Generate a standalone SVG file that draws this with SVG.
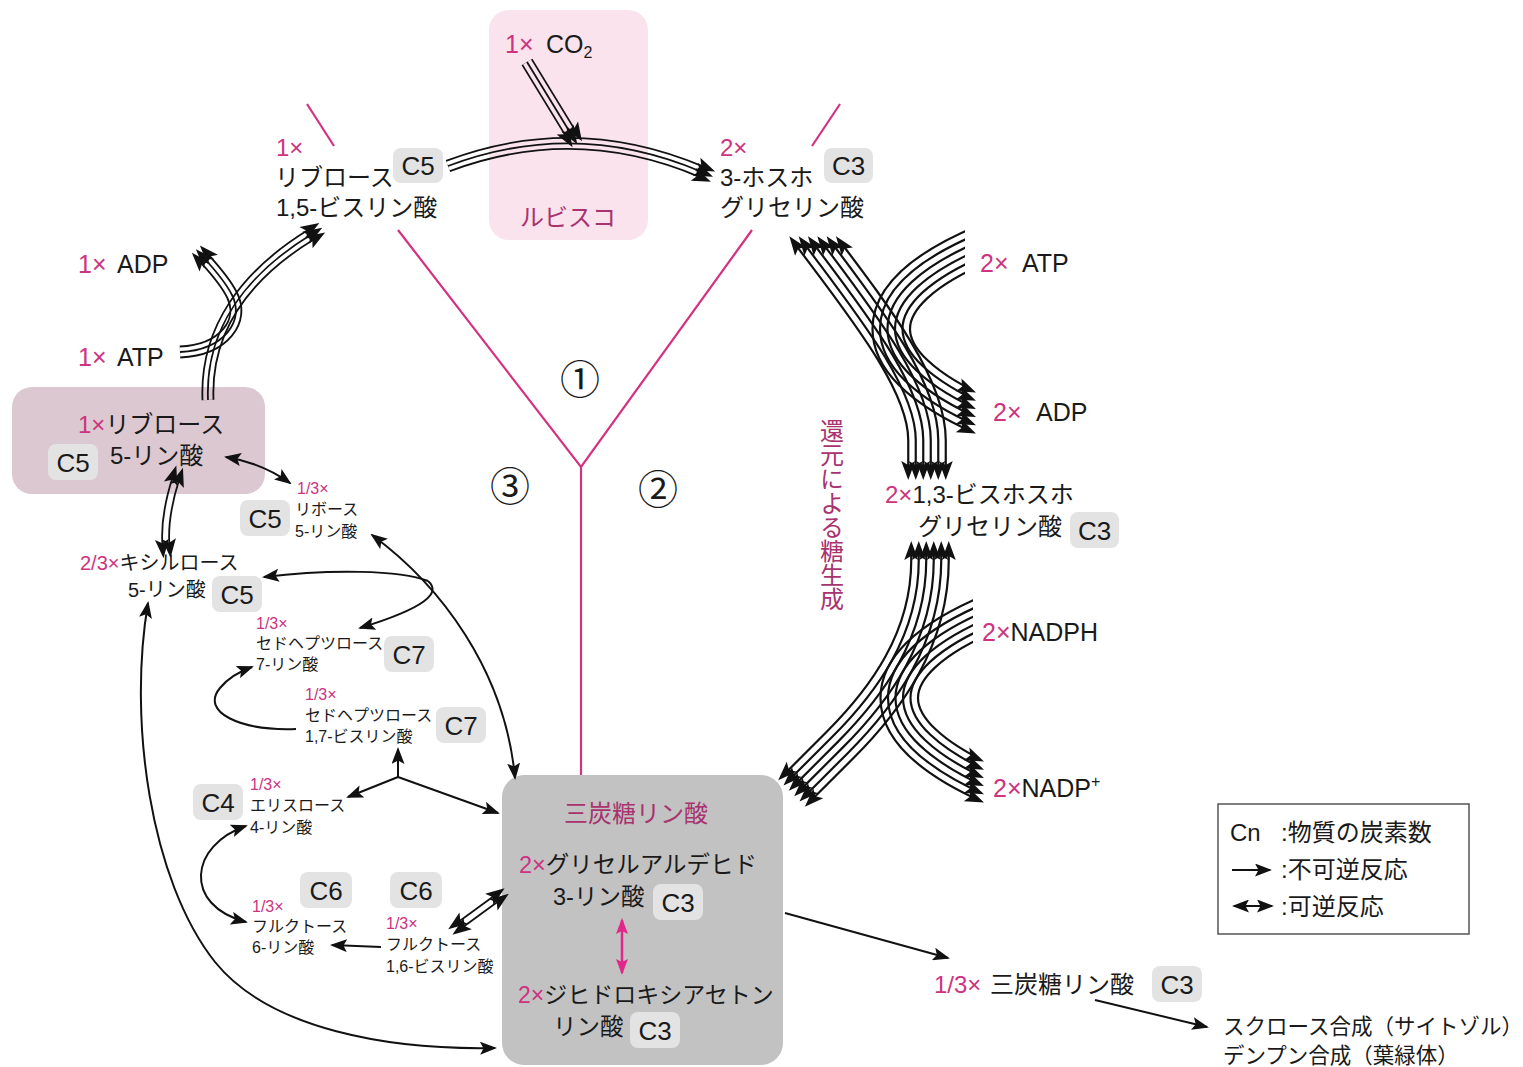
<svg xmlns="http://www.w3.org/2000/svg" width="1523" height="1067" viewBox="0 0 1523 1067">
<style>
text{font-family:"Liberation Sans","Noto Sans CJK JP",sans-serif;fill:#1a1a1a}
.m{fill:#cc3380}
.d{fill:#a8336f}
.cb{fill:#e3e3e3}
.ct{font-size:26px;text-anchor:middle}
.s{font-size:16px}
.l{font-size:24px}
.ln{fill:none;stroke:#111;stroke-width:2}
.pk{fill:none;stroke:#d4317f;stroke-width:2.2}
.cn{font-family:"Noto Sans CJK JP",sans-serif;font-size:40px;text-anchor:middle}
</style>
<defs>
<marker id="ah" viewBox="0 0 17 13" refX="15" refY="6.5" markerWidth="17" markerHeight="13" markerUnits="userSpaceOnUse" orient="auto-start-reverse"><path d="M0,0 L17,6.5 L0,13 L3.5,6.5 z" fill="#111"/></marker>
<marker id="ahp" viewBox="0 0 16 12" refX="14" refY="6" markerWidth="16" markerHeight="12" markerUnits="userSpaceOnUse" orient="auto-start-reverse"><path d="M0,0 L16,6 L0,12 L3,6 z" fill="#e0288a"/></marker>
<path id="hd" d="M-7,-7 L12,0 L-7,7 L-3,0 z" fill="#111"/>
<path id="pR1" d="M802,222 C860,300 927,380 927,440 L927,480"/>
<path id="pR2" d="M985,243 C860,295 860,362 985,417"/>
<path id="pR3" d="M930,535 L930,560 C930,640 885,700 840,745 L800,785"/>
<path id="pR4" d="M993,612 C868,664 868,731 993,786"/>
<path id="pT1" d="M448,166 Q575,118 702,172"/>
<path id="pT2" d="M527,62 L571,134"/>
<path id="pT3" d="M208,400 C205,330 245,275 312,234"/>
<path id="pT4" d="M180,352 C225,350 245,320 232,295 C226,283 215,270 204,258"/>
<path id="pD1" d="M176,478 C169,500 164,522 166,546"/>
<path id="pD2" d="M460,925 L497,898"/>
<mask id="mR1" maskUnits="userSpaceOnUse" x="0" y="0" width="1523" height="1067"><g fill="none"><use href="#pR1" stroke="#fff" stroke-width="39.7"/><use href="#pR1" stroke="#000" stroke-width="35.3"/><use href="#pR1" stroke="#fff" stroke-width="24.7"/><use href="#pR1" stroke="#000" stroke-width="20.3"/><use href="#pR1" stroke="#fff" stroke-width="9.7"/><use href="#pR1" stroke="#000" stroke-width="5.3"/></g></mask>
<mask id="mR2" maskUnits="userSpaceOnUse" x="0" y="0" width="1523" height="1067"><g fill="none"><use href="#pR2" stroke="#fff" stroke-width="39.7"/><use href="#pR2" stroke="#000" stroke-width="35.3"/><use href="#pR2" stroke="#fff" stroke-width="24.7"/><use href="#pR2" stroke="#000" stroke-width="20.3"/><use href="#pR2" stroke="#fff" stroke-width="9.7"/><use href="#pR2" stroke="#000" stroke-width="5.3"/></g></mask>
<mask id="mR3" maskUnits="userSpaceOnUse" x="0" y="0" width="1523" height="1067"><g fill="none"><use href="#pR3" stroke="#fff" stroke-width="39.7"/><use href="#pR3" stroke="#000" stroke-width="35.3"/><use href="#pR3" stroke="#fff" stroke-width="24.7"/><use href="#pR3" stroke="#000" stroke-width="20.3"/><use href="#pR3" stroke="#fff" stroke-width="9.7"/><use href="#pR3" stroke="#000" stroke-width="5.3"/></g></mask>
<mask id="mR4" maskUnits="userSpaceOnUse" x="0" y="0" width="1523" height="1067"><g fill="none"><use href="#pR4" stroke="#fff" stroke-width="39.7"/><use href="#pR4" stroke="#000" stroke-width="35.3"/><use href="#pR4" stroke="#fff" stroke-width="24.7"/><use href="#pR4" stroke="#000" stroke-width="20.3"/><use href="#pR4" stroke="#fff" stroke-width="9.7"/><use href="#pR4" stroke="#000" stroke-width="5.3"/></g></mask>
<mask id="mT1" maskUnits="userSpaceOnUse" x="0" y="0" width="1523" height="1067"><g fill="none"><use href="#pT1" stroke="#fff" stroke-width="12.8"/><use href="#pT1" stroke="#000" stroke-width="9.2"/><use href="#pT1" stroke="#fff" stroke-width="1.8"/></g></mask>
<mask id="mT2" maskUnits="userSpaceOnUse" x="0" y="0" width="1523" height="1067"><g fill="none"><use href="#pT2" stroke="#fff" stroke-width="12.8"/><use href="#pT2" stroke="#000" stroke-width="9.2"/><use href="#pT2" stroke="#fff" stroke-width="1.8"/></g></mask>
<mask id="mT3" maskUnits="userSpaceOnUse" x="0" y="0" width="1523" height="1067"><g fill="none"><use href="#pT3" stroke="#fff" stroke-width="12.8"/><use href="#pT3" stroke="#000" stroke-width="9.2"/><use href="#pT3" stroke="#fff" stroke-width="1.8"/></g></mask>
<mask id="mT4" maskUnits="userSpaceOnUse" x="0" y="0" width="1523" height="1067"><g fill="none"><use href="#pT4" stroke="#fff" stroke-width="12.8"/><use href="#pT4" stroke="#000" stroke-width="9.2"/><use href="#pT4" stroke="#fff" stroke-width="1.8"/></g></mask>
<mask id="mD1" maskUnits="userSpaceOnUse" x="0" y="0" width="1523" height="1067"><g fill="none"><use href="#pD1" stroke="#fff" stroke-width="8.8"/><use href="#pD1" stroke="#000" stroke-width="5.2"/></g></mask>
<mask id="mD2" maskUnits="userSpaceOnUse" x="0" y="0" width="1523" height="1067"><g fill="none"><use href="#pD2" stroke="#fff" stroke-width="8.8"/><use href="#pD2" stroke="#000" stroke-width="5.2"/></g></mask>
</defs>

<rect width="1523" height="1067" fill="#fff"/>

<g id="dividers">
<path class="pk" d="M398,230 L581,467 L752,230 M581,467 L581,775"/>
<path class="pk" d="M307,104 L334,146 M840,104 L812,146"/>
<text x="580" y="394" class="cn">①</text>
<text x="658" y="504" class="cn">②</text>
<text x="510" y="501" class="cn">③</text>
</g>

<g id="n-rubisco">
<rect x="489" y="10" width="159" height="230" rx="20" fill="#fae3ec"/>
<text x="568" y="226" font-size="24" text-anchor="middle" class="d">ルビスコ</text>
</g>
<g id="n-co2">
<text x="505" y="53" font-size="25"><tspan class="m">1×</tspan><tspan x="546">CO</tspan><tspan font-size="16" dy="5">2</tspan></text>
</g>
<g id="n-rubp">
<text x="276" y="156" class="l m">1×</text>
<text x="275" y="186" class="l">リブロース</text>
<text x="276" y="216" class="l">1,5-ビスリン酸</text>
<rect class="cb" x="393" y="148" width="50" height="35" rx="8"/><text class="ct" x="418" y="175">C5</text>
</g>
<g id="n-3pg">
<text x="720" y="156" class="l m">2×</text>
<text x="720" y="186" class="l">3-ホスホ</text>
<text x="720" y="216" class="l">グリセリン酸</text>
<rect class="cb" x="824" y="148" width="49" height="35" rx="8"/><text class="ct" x="848.5" y="175">C3</text>
</g>
<g id="n-adp1"><text x="78" y="273" font-size="25"><tspan class="m">1×</tspan><tspan x="117">ADP</tspan></text></g>
<g id="n-atp1"><text x="78" y="366" font-size="25"><tspan class="m">1×</tspan><tspan x="117">ATP</tspan></text></g>
<g id="n-ru5p">
<rect x="12" y="387" width="253" height="107" rx="20" fill="#dcc8d0"/>
<text x="78" y="433" class="l"><tspan class="m">1×</tspan>リブロース</text>
<text x="110" y="464" class="l">5-リン酸</text>
<rect class="cb" x="48" y="444" width="50" height="36" rx="8"/><text class="ct" x="73" y="472">C5</text>
</g>
<g id="n-r5p">
<text x="297" y="494" class="s m">1/3×</text>
<text x="295" y="515" class="s">リボース</text>
<text x="295" y="537" class="s">5-リン酸</text>
<rect class="cb" x="240" y="500" width="50" height="36" rx="8"/><text class="ct" x="265" y="528">C5</text>
</g>
<g id="n-xu5p">
<text x="80" y="570" font-size="20"><tspan class="m">2/3×</tspan>キシルロース</text>
<text x="128" y="597" font-size="20">5-リン酸</text>
<rect class="cb" x="212" y="576" width="50" height="36" rx="8"/><text class="ct" x="237" y="604">C5</text>
</g>
<g id="n-s7p">
<text x="256" y="629" class="s m">1/3×</text>
<text x="256" y="649" class="s">セドヘプツロース</text>
<text x="256" y="670" class="s">7-リン酸</text>
<rect class="cb" x="384" y="636" width="50" height="36" rx="8"/><text class="ct" x="409" y="664">C7</text>
</g>
<g id="n-sbp">
<text x="305" y="700" class="s m">1/3×</text>
<text x="305" y="721" class="s">セドヘプツロース</text>
<text x="305" y="742" class="s">1,7-ビスリン酸</text>
<rect class="cb" x="436" y="707" width="50" height="36" rx="8"/><text class="ct" x="461" y="735">C7</text>
</g>
<g id="n-e4p">
<rect class="cb" x="193" y="784" width="50" height="36" rx="8"/><text class="ct" x="218" y="812">C4</text>
<text x="250" y="790" class="s m">1/3×</text>
<text x="250" y="811" class="s">エリスロース</text>
<text x="250" y="833" class="s">4-リン酸</text>
</g>
<g id="n-f6p">
<rect class="cb" x="300" y="872" width="52" height="36" rx="8"/><text class="ct" x="326" y="900">C6</text>
<text x="252" y="912" class="s m">1/3×</text>
<text x="252" y="932" class="s">フルクトース</text>
<text x="252" y="953" class="s">6-リン酸</text>
</g>
<g id="n-fbp">
<rect class="cb" x="390" y="872" width="52" height="36" rx="8"/><text class="ct" x="416" y="900">C6</text>
<text x="386" y="929" class="s m">1/3×</text>
<text x="386" y="950" class="s">フルクトース</text>
<text x="386" y="972" class="s">1,6-ビスリン酸</text>
</g>
<g id="n-triose">
<rect x="502" y="775" width="281" height="290" rx="22" fill="#c2c2c2"/>
<text x="636" y="822" class="l d" text-anchor="middle">三炭糖リン酸</text>
<text x="519" y="873" font-size="23.5"><tspan class="m">2×</tspan>グリセルアルデヒド</text>
<text x="553" y="905" font-size="23.5">3-リン酸</text>
<rect class="cb" x="653" y="884" width="50" height="36" rx="8"/><text class="ct" x="678" y="912">C3</text>
<text x="518" y="1003" font-size="23"><tspan class="m">2×</tspan>ジヒドロキシアセトン</text>
<text x="553" y="1035" font-size="23.5">リン酸</text>
<rect class="cb" x="630" y="1012" width="50" height="36" rx="8"/><text class="ct" x="655" y="1040">C3</text>
</g>
<g id="n-atp2"><text x="980" y="272" font-size="25"><tspan class="m">2×</tspan><tspan x="1022">ATP</tspan></text></g>
<g id="n-adp2"><text x="993" y="421" font-size="25"><tspan class="m">2×</tspan><tspan x="1036">ADP</tspan></text></g>
<g id="n-bpg">
<text x="885" y="503" class="l"><tspan class="m">2×</tspan>1,3-ビスホスホ</text>
<text x="918" y="535" class="l">グリセリン酸</text>
<rect class="cb" x="1070" y="512" width="49" height="36" rx="8"/><text class="ct" x="1094.5" y="540">C3</text>
</g>
<g id="n-nadph"><text x="982" y="641" font-size="25"><tspan class="m">2×</tspan>NADPH</text></g>
<g id="n-nadp"><text x="993" y="797" font-size="25"><tspan class="m">2×</tspan>NADP<tspan font-size="16" dy="-10">+</tspan></text></g>
<g id="n-reduction"><text x="830" y="419" font-size="24" class="d" style="writing-mode:vertical-rl">還元による糖生成</text></g>
<g id="n-out">
<text x="934" y="993" class="l"><tspan class="m">1/3×</tspan><tspan x="990">三炭糖リン酸</tspan></text>
<rect class="cb" x="1152" y="966" width="50" height="36" rx="8"/><text class="ct" x="1177" y="994">C3</text>
</g>
<g id="n-sink">
<text x="1223" y="1034" font-size="21.5">スクロース合成（サイトゾル）</text>
<text x="1223" y="1063" font-size="21.5">デンプン合成（葉緑体）</text>
</g>
<g id="n-legend">
<rect x="1218" y="804" width="251" height="130" fill="#fff" stroke="#555" stroke-width="1.5"/>
<text x="1230" y="841" class="l">Cn<tspan x="1281">:物質の炭素数</tspan></text>
<text x="1281" y="878" class="l">:不可逆反応</text>
<text x="1281" y="915" class="l">:可逆反応</text>
<path class="ln" d="M1232,870 L1270,870" marker-end="url(#ah)"/>
<path class="ln" d="M1234,906 L1272,906" marker-start="url(#ah)" marker-end="url(#ah)"/>
</g>

<g id="connectors">
<rect x="700" y="246" width="300" height="222" fill="#111" mask="url(#mR1)"/>
<rect x="800" y="200" width="165" height="260" fill="#111" mask="url(#mR2)"/>
<rect x="700" y="553" width="300" height="300" fill="#111" mask="url(#mR3)"/>
<rect x="800" y="560" width="173" height="280" fill="#111" mask="url(#mR4)"/>
<rect x="400" y="100" width="340" height="100" fill="#111" mask="url(#mT1)"/>
<rect x="500" y="40" width="100" height="110" fill="#111" mask="url(#mT2)"/>
<rect x="150" y="200" width="200" height="220" fill="#111" mask="url(#mT3)"/>
<rect x="150" y="240" width="120" height="130" fill="#111" mask="url(#mT4)"/>
<rect x="140" y="460" width="60" height="100" fill="#111" mask="url(#mD1)"/>
<rect x="440" y="880" width="80" height="60" fill="#111" mask="url(#mD2)"/>
<g id="heads">
<use href="#hd" transform="translate(796.5,246) rotate(-126.6)"/>
<use href="#hd" transform="translate(805.8,246) rotate(-126.6)"/>
<use href="#hd" transform="translate(815.1,246) rotate(-126.6)"/>
<use href="#hd" transform="translate(824.5,246) rotate(-126.6)"/>
<use href="#hd" transform="translate(833.8,246) rotate(-126.6)"/>
<use href="#hd" transform="translate(843.1,246) rotate(-126.6)"/>
<use href="#hd" transform="translate(908.25,468) rotate(90)"/>
<use href="#hd" transform="translate(915.75,468) rotate(90)"/>
<use href="#hd" transform="translate(923.25,468) rotate(90)"/>
<use href="#hd" transform="translate(930.75,468) rotate(90)"/>
<use href="#hd" transform="translate(938.25,468) rotate(90)"/>
<use href="#hd" transform="translate(945.75,468) rotate(90)"/>
<use href="#hd" transform="translate(965,387.7) rotate(23.7)"/>
<use href="#hd" transform="translate(965,395.9) rotate(23.7)"/>
<use href="#hd" transform="translate(965,404.1) rotate(23.7)"/>
<use href="#hd" transform="translate(965,412.3) rotate(23.7)"/>
<use href="#hd" transform="translate(965,420.5) rotate(23.7)"/>
<use href="#hd" transform="translate(965,428.7) rotate(23.7)"/>
<use href="#hd" transform="translate(911.25,553) rotate(-90)"/>
<use href="#hd" transform="translate(918.75,553) rotate(-90)"/>
<use href="#hd" transform="translate(926.25,553) rotate(-90)"/>
<use href="#hd" transform="translate(933.75,553) rotate(-90)"/>
<use href="#hd" transform="translate(941.25,553) rotate(-90)"/>
<use href="#hd" transform="translate(948.75,553) rotate(-90)"/>
<use href="#hd" transform="translate(786.7,771.7) rotate(135)"/>
<use href="#hd" transform="translate(792,777) rotate(135)"/>
<use href="#hd" transform="translate(797.3,782.3) rotate(135)"/>
<use href="#hd" transform="translate(802.7,787.7) rotate(135)"/>
<use href="#hd" transform="translate(808,793) rotate(135)"/>
<use href="#hd" transform="translate(813.3,798.3) rotate(135)"/>
<use href="#hd" transform="translate(973,756.7) rotate(23.7)"/>
<use href="#hd" transform="translate(973,764.9) rotate(23.7)"/>
<use href="#hd" transform="translate(973,773.1) rotate(23.7)"/>
<use href="#hd" transform="translate(973,781.3) rotate(23.7)"/>
<use href="#hd" transform="translate(973,789.5) rotate(23.7)"/>
<use href="#hd" transform="translate(973,797.7) rotate(23.7)"/>
<use href="#hd" transform="translate(704.1,166.9) rotate(23)"/>
<use href="#hd" transform="translate(702,172) rotate(23)"/>
<use href="#hd" transform="translate(699.9,177.1) rotate(23)"/>
<use href="#hd" transform="translate(575.7,131.1) rotate(58.6)"/>
<use href="#hd" transform="translate(571,134) rotate(58.6)"/>
<use href="#hd" transform="translate(566.3,136.9) rotate(58.6)"/>
<use href="#hd" transform="translate(309.1,229.3) rotate(-31.5)"/>
<use href="#hd" transform="translate(312,234) rotate(-31.5)"/>
<use href="#hd" transform="translate(314.9,238.7) rotate(-31.5)"/>
<use href="#hd" transform="translate(208,254.3) rotate(-132.5)"/>
<use href="#hd" transform="translate(204,258) rotate(-132.5)"/>
<use href="#hd" transform="translate(200,261.7) rotate(-132.5)"/>
<use href="#hd" transform="translate(172.7,476.9) rotate(-72.3)"/>
<use href="#hd" transform="translate(179.3,479.1) rotate(-72.3)"/>
<use href="#hd" transform="translate(162.5,546.3) rotate(85.2)"/>
<use href="#hd" transform="translate(169.5,545.7) rotate(85.2)"/>
<use href="#hd" transform="translate(462.1,927.8) rotate(143.9)"/>
<use href="#hd" transform="translate(457.9,922.2) rotate(143.9)"/>
<use href="#hd" transform="translate(499.1,900.8) rotate(-36.1)"/>
<use href="#hd" transform="translate(494.9,895.2) rotate(-36.1)"/>
</g>
<path class="ln" d="M226,457 Q262,463 290,483" marker-start="url(#ah)" marker-end="url(#ah)"/>
<path class="ln" d="M372,535 C440,585 505,670 515,778" marker-start="url(#ah)" marker-end="url(#ah)"/>
<path class="ln" d="M428,581 C400,570 330,569 264,577" marker-end="url(#ah)"/>
<path class="ln" d="M428,581 C442,593 425,608 360,628" marker-end="url(#ah)"/>
<path class="ln" d="M296,729 C240,731 200,712 220,688 C228,678 238,672 252,667" marker-end="url(#ah)"/>
<path class="ln" d="M398,777 L398,749" marker-end="url(#ah)"/>
<path class="ln" d="M398,777 L348,797" marker-end="url(#ah)"/>
<path class="ln" d="M398,777 L498,813" marker-end="url(#ah)"/>
<path class="ln" d="M246,826 C190,845 182,905 246,922" marker-start="url(#ah)" marker-end="url(#ah)"/>
<path class="ln" d="M381,947 L332,945" marker-end="url(#ah)"/>
<path class="ln" d="M148,603 C128,720 150,880 215,962 C270,1030 390,1050 495,1048" marker-start="url(#ah)" marker-end="url(#ah)"/>
<path class="ln" d="M785,913 L948,958" marker-end="url(#ah)"/>
<path class="ln" d="M1095,1000 L1207,1027" marker-end="url(#ah)"/>
<path d="M622,920 L622,973" fill="none" stroke="#e0288a" stroke-width="2.5" marker-start="url(#ahp)" marker-end="url(#ahp)"/>
</g>
</svg>
